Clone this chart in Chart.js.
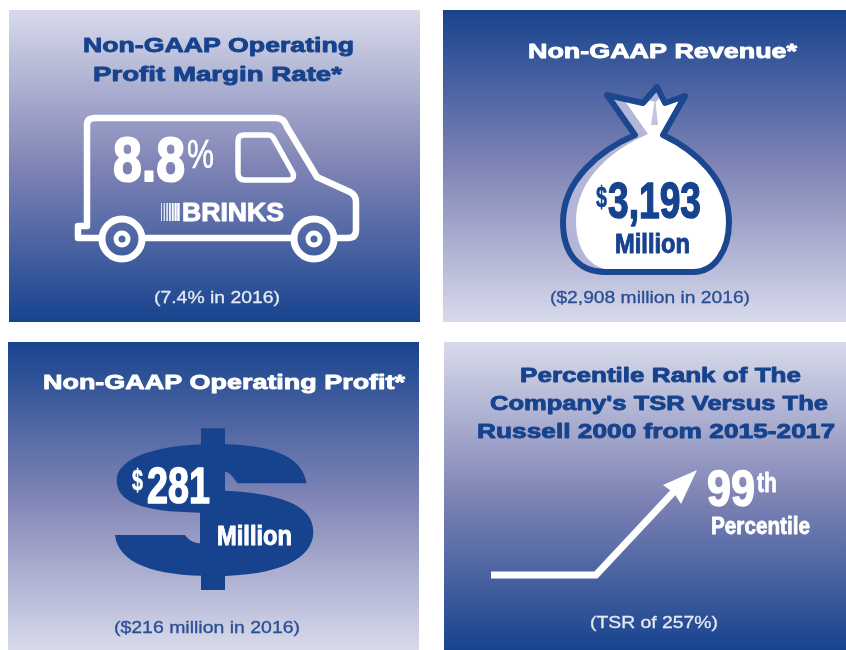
<!DOCTYPE html>
<html>
<head>
<meta charset="utf-8">
<script src="https://cdn.jsdelivr.net/npm/chart.js@4"></script>
<style>
html,body{margin:0;padding:0;background:#fff}
canvas{display:block;filter:blur(0.7px)}
</style>
</head>
<body>
<canvas id="c" width="846" height="650"></canvas>
<script>
const metricTitles = [
  ['Non-GAAP Operating', 'Profit Margin Rate*'],
  ['Non-GAAP Revenue*'],
  ['Non-GAAP Operating Profit*'],
  ['Percentile Rank of The', "Company's TSR Versus The", 'Russell 2000 from 2015-2017']
];
const currentValues = ['8.8', '3,193', '281', '99'];
const priorNotes = ['(7.4% in 2016)', '($2,908 million in 2016)', '($216 million in 2016)', '(TSR of 257%)'];
const tsrPathX = [491, 596, 681];
const tsrPathY = [575, 575, 484];

const NAVY = '#17438e', LIGHT = '#d8daeb', MID = '#7f84b5';
const FONT = '"Liberation Sans", Arial, sans-serif';

function fit(ctx, str, l, r, base, size, color, weight, extra) {
  ctx.save();
  ctx.font = (weight || 'bold') + ' ' + size + 'px ' + FONT;
  ctx.textAlign = 'left'; ctx.textBaseline = 'alphabetic';
  ctx.fillStyle = color;
  ctx.strokeStyle = color;
  ctx.lineJoin = 'round';
  const w = ctx.measureText(str).width;
  ctx.translate(l, base);
  ctx.scale((r - l) / w, 1);
  ctx.fillText(str, 0, 0);
  if (extra) { ctx.lineWidth = extra; ctx.strokeText(str, 0, 0); }
  ctx.restore();
}

function panel(ctx, x0, y0, x1, y1, lightTop) {
  const g = ctx.createLinearGradient(0, y0, 0, y1);
  g.addColorStop(0, lightTop ? LIGHT : NAVY);
  g.addColorStop(0.5, MID);
  g.addColorStop(1, lightTop ? NAVY : LIGHT);
  ctx.fillStyle = g;
  ctx.fillRect(x0, y0, x1 - x0, y1 - y0);
}

function drawVan(ctx) {
  ctx.save();
  ctx.strokeStyle = '#fff'; ctx.lineWidth = 6.5; ctx.lineJoin = 'round'; ctx.lineCap = 'round';
  ctx.beginPath();
  ctx.moveTo(101, 238);
  ctx.lineTo(78, 238); ctx.lineTo(78, 226); ctx.lineTo(87, 226);
  ctx.lineTo(87, 125);
  ctx.quadraticCurveTo(87, 118, 95, 118);
  ctx.lineTo(276, 118);
  ctx.quadraticCurveTo(284, 118, 287, 127);
  ctx.lineTo(317, 177);
  ctx.lineTo(350, 192);
  ctx.quadraticCurveTo(356, 195, 356, 202);
  ctx.lineTo(356, 230);
  ctx.quadraticCurveTo(356, 238, 348, 238);
  ctx.lineTo(337, 238);
  ctx.moveTo(145, 238); ctx.lineTo(292, 238);
  ctx.stroke();
  // window
  ctx.lineWidth = 5.5;
  ctx.beginPath();
  ctx.moveTo(244, 135);
  ctx.lineTo(268, 135);
  ctx.quadraticCurveTo(272, 135, 274, 139);
  ctx.lineTo(293, 173);
  ctx.quadraticCurveTo(295, 180, 288, 180);
  ctx.lineTo(245, 180);
  ctx.quadraticCurveTo(238, 180, 238, 173);
  ctx.lineTo(238, 141);
  ctx.quadraticCurveTo(238, 135, 244, 135);
  ctx.stroke();
  // wheels
  [122, 314].forEach(cx => {
    ctx.lineWidth = 7;
    ctx.beginPath(); ctx.arc(cx, 239, 20, 0, Math.PI * 2); ctx.stroke();
    ctx.lineWidth = 5;
    ctx.beginPath(); ctx.arc(cx, 239, 6, 0, Math.PI * 2); ctx.stroke();
  });
  // logo stripes
  ctx.fillStyle = '#fff';
  for (let i = 0; i < 7; i++) {
    const w = 0.8 + i * 0.28;
    ctx.fillRect(161 + i * 2.7, 203, w, 18);
  }
  ctx.restore();
}

function bagPath() {
  const p = new Path2D();
  p.moveTo(635, 135);
  p.bezierCurveTo(600, 150, 563, 180, 563, 222);
  p.bezierCurveTo(563, 255, 580, 272, 605, 272);
  p.lineTo(693, 272);
  p.bezierCurveTo(715, 272, 729, 250, 729, 222);
  p.bezierCurveTo(729, 180, 695, 150, 663, 135);
  p.lineTo(685, 96);
  p.lineTo(665, 103);
  p.lineTo(657, 87);
  p.lineTo(643, 103);
  p.lineTo(607, 95);
  p.closePath();
  return p;
}

function drawBag(ctx) {
  const p = bagPath();
  ctx.save();
  ctx.fillStyle = '#b4b6d7';
  ctx.fill(p);
  ctx.save();
  ctx.clip(p);
  ctx.translate(13, -1);
  ctx.fillStyle = '#fff';
  ctx.fill(p);
  ctx.restore();
  // fold shading in the tied top
  ctx.fillStyle = '#c3c5de';
  ctx.beginPath();
  ctx.moveTo(651, 125); ctx.lineTo(655, 97); ctx.lineTo(658, 125);
  ctx.closePath();
  ctx.fill();
  ctx.strokeStyle = '#1b4690'; ctx.lineWidth = 6; ctx.lineJoin = 'round';
  ctx.stroke(p);
  ctx.restore();
}

function drawDollar(ctx) {
  ctx.save();
  ctx.translate(0, 330);
  ctx.scale(1 / 3, 1 / 3);
  ctx.fillStyle = NAVY;
  ctx.fillRect(603, 295, 72, 485);
  ctx.beginPath();
  ctx.moveTo(640, 342);
  ctx.bezierCurveTo(800, 342, 905, 370, 920, 460);
  ctx.lineTo(712, 460);
  ctx.bezierCurveTo(700, 440, 690, 428, 675, 425);
  ctx.lineTo(675, 482);
  ctx.bezierCurveTo(830, 490, 940, 520, 940, 605);
  ctx.bezierCurveTo(940, 685, 840, 738, 640, 738);
  ctx.bezierCurveTo(460, 738, 355, 700, 345, 615);
  ctx.lineTo(555, 615);
  ctx.bezierCurveTo(565, 630, 580, 638, 600, 640);
  ctx.lineTo(600, 548);
  ctx.bezierCurveTo(420, 545, 350, 515, 350, 450);
  ctx.bezierCurveTo(350, 385, 470, 342, 640, 342);
  ctx.closePath();
  ctx.fill();
  ctx.restore();
}

const infographic = {
  id: 'infographic',
  beforeDatasetsDraw(chart) {
    const ctx = chart.ctx;
    panel(ctx, 9, 10, 420, 322, true);
    panel(ctx, 443, 10, 846, 322, false);
    panel(ctx, 8, 342, 419, 650, false);
    panel(ctx, 444, 342, 846, 650, true);
    drawVan(ctx);
    drawBag(ctx);
    drawDollar(ctx);
  },
  afterDatasetsDraw(chart) {
    const ctx = chart.ctx, sx = chart.scales.x, sy = chart.scales.y;
    // arrow head continuing the shaft
    const n = tsrPathX.length - 1;
    const tx = sx.getPixelForValue(tsrPathX[n]), ty = sy.getPixelForValue(tsrPathY[n]);
    ctx.fillStyle = '#fff';
    ctx.beginPath();
    ctx.moveTo(tx + 16, ty - 14);
    ctx.lineTo(tx - 18, ty + 1);
    ctx.lineTo(tx - 7, ty + 9);
    ctx.lineTo(tx, ty + 20);
    ctx.closePath();
    ctx.fill();

    const t = metricTitles, H = 0.9, B = 1.5;
    fit(ctx, t[0][0], 83, 354, 52, 21, NAVY, 'bold', H);
    fit(ctx, t[0][1], 93, 342, 81, 21, NAVY, 'bold', H);
    fit(ctx, t[1][0], 528, 797, 58, 21, '#fff', 'bold', H);
    fit(ctx, t[2][0], 43, 405, 389, 21, '#fff', 'bold', H);
    fit(ctx, t[3][0], 520, 801, 382, 21, NAVY, 'bold', H);
    fit(ctx, t[3][1], 490, 828, 410, 21, NAVY, 'bold', H);
    fit(ctx, t[3][2], 477, 835, 438, 21, NAVY, 'bold', H);

    fit(ctx, priorNotes[0], 154, 280, 303, 16, '#e6e8f4', 'normal', 0.3);
    fit(ctx, priorNotes[1], 550, 750, 303, 16, '#2a4f95', 'normal', 0.3);
    fit(ctx, priorNotes[2], 114, 300, 633, 16, '#2a4f95', 'normal', 0.3);
    fit(ctx, priorNotes[3], 590, 718, 628, 16, '#e6e8f4', 'normal', 0.3);

    // van
    fit(ctx, currentValues[0], 113, 185, 181, 63, '#fff', 'bold', 2);
    fit(ctx, '%', 187, 214, 168, 40, '#fff', 'normal', 0.6);
    fit(ctx, 'BRINKS', 182, 284, 221, 25, '#fff', 'bold', 1);
    // bag
    fit(ctx, '$', 596, 607, 207, 30, NAVY, 'bold', 0.6);
    fit(ctx, currentValues[1], 608, 701, 218, 50, NAVY, 'bold', B);
    fit(ctx, 'Million', 615, 690, 253, 28, NAVY, 'bold', 1);
    // dollar
    fit(ctx, '$', 132, 143, 490, 30, '#fff', 'bold', 0.6);
    fit(ctx, currentValues[2], 147, 210, 503, 50, '#fff', 'bold', B);
    fit(ctx, 'Million', 217, 292, 545, 28, '#fff', 'bold', 1);
    // percentile
    fit(ctx, currentValues[3], 707, 755, 506, 50, '#fff', 'bold', B);
    fit(ctx, 'th', 757, 777, 492, 28, '#fff', 'bold', 0.8);
    fit(ctx, 'Percentile', 711, 810, 534, 23, '#fff', 'bold', 0.8);
  }
};

new Chart(document.getElementById('c'), {
  type: 'line',
  data: {
    datasets: [{
      label: 'TSR',
      data: tsrPathX.map((x, i) => ({ x: x, y: tsrPathY[i] })),
      borderColor: '#fff',
      borderWidth: 7,
      borderJoinStyle: 'miter',
      borderCapStyle: 'butt',
      pointRadius: 0,
      tension: 0,
      fill: false
    }]
  },
  options: {
    responsive: false,
    animation: false,
    layout: { padding: 0 },
    plugins: { legend: { display: false }, tooltip: { enabled: false }, title: { display: false } },
    scales: {
      x: { type: 'linear', display: false, min: 0, max: 846 },
      y: { type: 'linear', display: false, min: 0, max: 650, reverse: true }
    }
  },
  plugins: [infographic]
});
</script>
</body>
</html>
